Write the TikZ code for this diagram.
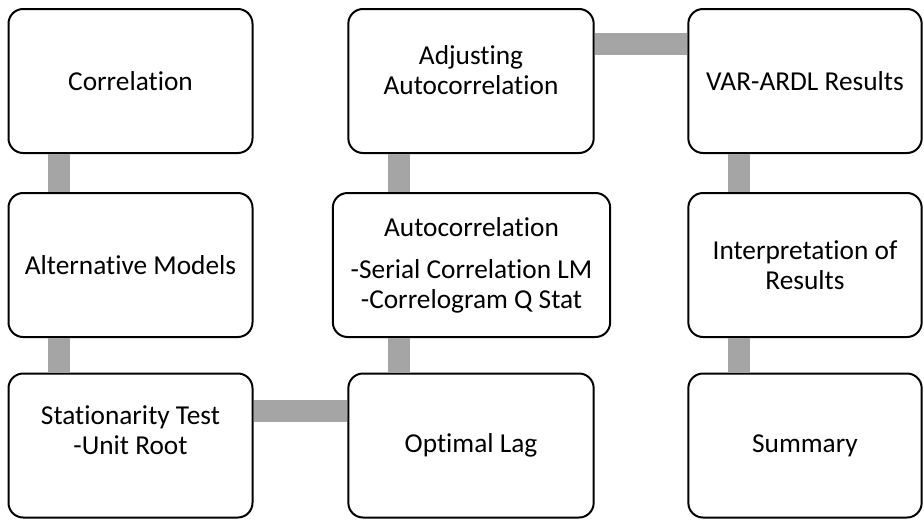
\documentclass[tikz,border=0pt]{standalone}
\usepackage{fontspec}
\setmainfont{Carlito}[Ligatures=NoCommon]
\usepackage{tikz}
\usetikzlibrary{positioning}
\definecolor{linkgray}{RGB}{165,165,165}
\tikzset{
    step box/.style = {draw, fill=white, line width=1.5pt, rounded corners=11pt,
        align=center, inner sep=0pt, minimum height=108pt,
        font=\fontsize{20.5}{22.5}\selectfont},
    link/.style = {draw=linkgray, line width=16.5pt},
}

\begin{document}
\begin{tikzpicture}[x=0.75pt, y=-0.75pt]
        \useasboundingbox (0,0) rectangle (924,521);
        \node[step box, minimum width=183pt] (corr) at (130.5, 81) {Correlation};
        \node[step box, minimum width=183pt] (altm) at (130.5, 265) {Alternative Models};
        \node[step box, minimum width=183pt] (stat) at (130.5, 445.5) {Stationarity Test\\-Unit Root\\\mbox{}};
        \node[step box, minimum width=184pt] (adj) at (471, 81) {Adjusting\\Autocorrelation\\[-6pt]\mbox{}};
        \node[step box, minimum width=208pt] (auto) at (471.5, 265) {Autocorrelation\\[9pt]-Serial Correlation LM\\-Correlogram Q Stat};
        \node[step box, minimum width=184pt] (lag) at (471, 445.5) {Optimal Lag};
        \node[step box, minimum width=175pt] (var) at (805, 81) {VAR-ARDL Results};
        \node[step box, minimum width=175pt] (interp) at (805, 265) {Interpretation of\\Results};
        \node[step box, minimum width=175pt] (summ) at (805, 445.5) {Summary};
        \draw[link] (corr.south -| 59,0) -- (altm.north -| 59,0);
        \draw[link] (altm.south -| 59,0) -- (stat.north -| 59,0);
        \draw[link] (stat.east |- 0,411) -- (lag.west |- 0,411);
        \draw[link] (lag.north -| 399,0) -- (auto.south -| 399,0);
        \draw[link] (auto.north -| 399,0) -- (adj.south -| 399,0);
        \draw[link] (adj.east |- 0,44) -- (var.west |- 0,44);
        \draw[link] (var.south -| 739,0) -- (interp.north -| 739,0);
        \draw[link] (interp.south -| 739,0) -- (summ.north -| 739,0);
    \end{tikzpicture}
\end{document}
